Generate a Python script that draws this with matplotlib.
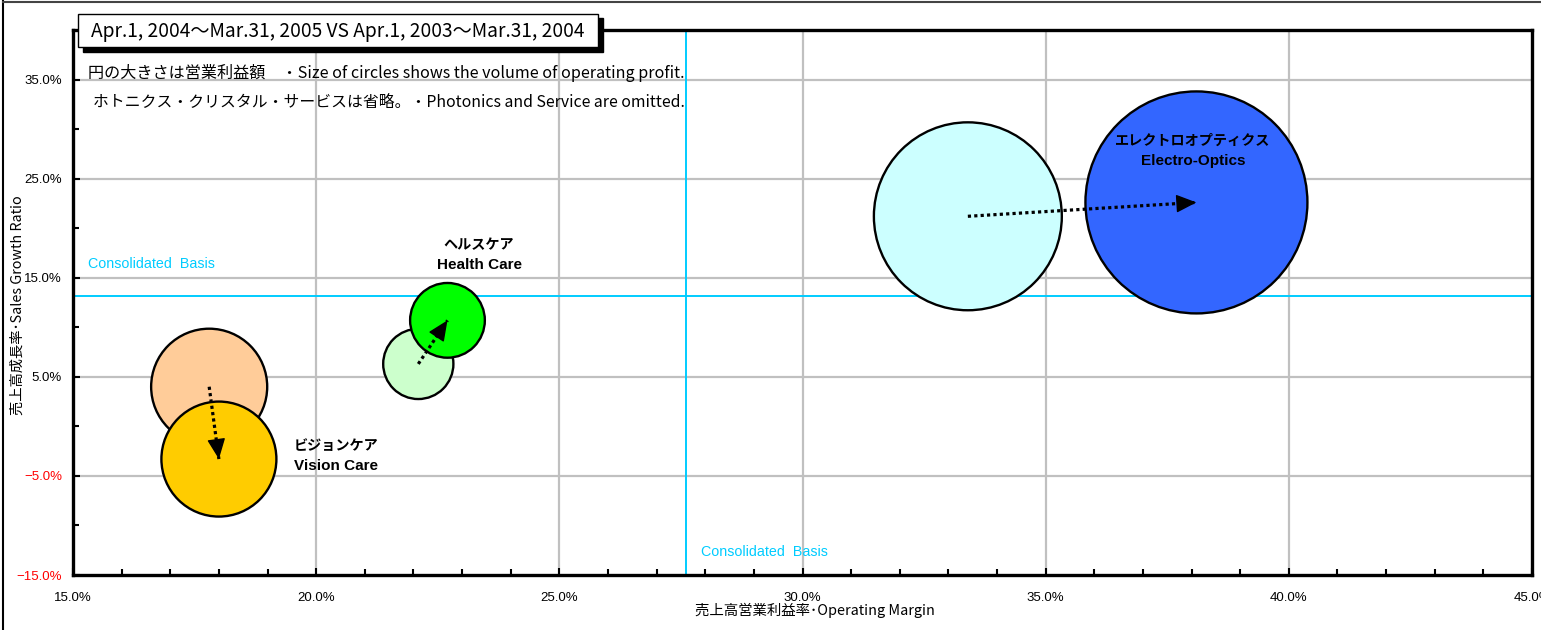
import matplotlib
matplotlib.use("Agg")
import matplotlib.pyplot as plt
import numpy as np
from matplotlib.patches import Rectangle
from matplotlib.lines import Line2D
from matplotlib.ticker import MultipleLocator, FixedLocator

plt.rcParams['font.family'] = ['Noto Sans CJK JP', 'DejaVu Sans']

# ---------------- data ----------------
segments_jp = ['ビジョンケア', 'ヘルスケア', 'エレクトロオプティクス']
segments_en = ['Vision Care', 'Health Care', 'Electro-Optics']
# previous period (Apr.1, 2003 - Mar.31, 2004)
margin_prev = [17.8, 22.1, 33.4]
growth_prev = [4.0, 6.3, 21.2]
profit_prev = [164, 60, 430]
# current period (Apr.1, 2004 - Mar.31, 2005)
margin_cur = [18.0, 22.7, 38.1]
growth_cur = [-3.3, 10.7, 22.6]
profit_cur = [161, 68, 600]
# consolidated basis
consol_margin = 27.6
consol_growth = 13.2

colors_prev = ['#FFCC99', '#CCFFCC', '#CCFFFF']
colors_cur = ['#FFCC00', '#00FF00', '#3366FF']
label_pos = [(20.41, -2.0), (23.35, 18.34), (38.03, 28.82)]

x_ticks = [15, 20, 25, 30, 35, 40, 45]
y_ticks = [-15, -5, 5, 15, 25, 35]

LAT = ['Liberation Sans', 'DejaVu Sans']

# ---------------- figure ----------------
W, H = 1541, 630
fig = plt.figure(figsize=(W / 100, H / 100), dpi=100)
ax = fig.add_axes([73 / W, 1 - 575 / H, (1532 - 73) / W, (575 - 30) / H])
ax.set_xlim(15, 45)
ax.set_ylim(-15, 40)

# grid
for xv in x_ticks[1:-1]:
    ax.axvline(xv, color='#C0C0C0', lw=1.6, zorder=0)
for yv in y_ticks[1:]:
    ax.axhline(yv, color='#C0C0C0', lw=1.6, zorder=0)

# consolidated lines
ax.axvline(consol_margin, color='#00CCFF', lw=1.4, zorder=1)
ax.axhline(consol_growth, color='#00CCFF', lw=1.4, zorder=1)
ax.text(15.31, 16.43, 'Consolidated  Basis', color='#00CCFF', fontsize=10.3,
        ha='left', va='center', family=LAT)
ax.text(27.91, -12.68, 'Consolidated  Basis', color='#00CCFF', fontsize=10.3,
        ha='left', va='center', family=LAT)

# bubbles
k = 42.58
ax.scatter(margin_prev, growth_prev, s=[p * k for p in profit_prev], c=colors_prev,
           edgecolors='black', linewidths=1.7, zorder=3)
ax.scatter(margin_cur, growth_cur, s=[p * k for p in profit_cur], c=colors_cur,
           edgecolors='black', linewidths=1.7, zorder=4)

# arrows: dotted shaft + solid head
for i in range(3):
    x0, y0 = margin_prev[i], growth_prev[i]
    x1, y1 = margin_cur[i], growth_cur[i]
    p0 = ax.transData.transform((x0, y0))
    p1 = ax.transData.transform((x1, y1))
    L = np.hypot(*(p1 - p0))
    ax.plot([x0, x1], [y0, y1], color='black', lw=2.3, linestyle=(0, (1, 1)),
            dash_capstyle='butt', zorder=6)
    ax.annotate('', xy=(x1, y1), xytext=(x0, y0),
                arrowprops=dict(arrowstyle='-|>,head_length=0.85,head_width=0.38',
                                color='black', lw=1.0, mutation_scale=15,
                                shrinkA=(L - 4) * 0.72, shrinkB=0), zorder=7)

# segment labels
for i in range(3):
    lx, ly = label_pos[i]
    ax.text(lx, ly, segments_jp[i], fontsize=10.2, fontweight='bold', ha='center', va='center', zorder=8)
    ax.text(lx, ly - 2.02, segments_en[i], fontsize=11, fontweight='bold', ha='center', va='center',
            family=LAT, zorder=8)

# ticks
ax.xaxis.set_major_locator(FixedLocator(x_ticks))
ax.xaxis.set_minor_locator(MultipleLocator(1))
ax.yaxis.set_major_locator(FixedLocator(y_ticks))
ax.yaxis.set_minor_locator(FixedLocator([-10, 0, 10, 20, 30]))
ax.set_xticklabels([f'{v:.1f}%' for v in x_ticks])
ax.set_yticklabels([(f'{v:.1f}%' if v >= 0 else f'\u2212{abs(v):.1f}%') for v in y_ticks])
for lbl, v in zip(ax.get_yticklabels(), y_ticks):
    if v < 0:
        lbl.set_color('red')
ax.tick_params(which='both', direction='in', width=1.5, labelsize=9.5)
ax.tick_params(which='major', length=5)
ax.tick_params(which='minor', length=4)
ax.tick_params(axis='x', pad=12)
ax.tick_params(axis='y', pad=8)
for lbl in ax.get_xticklabels() + ax.get_yticklabels():
    lbl.set_family(LAT)

for sp in ax.spines.values():
    sp.set_linewidth(2.4)
    sp.set_color('black')

# axis labels
fig.text(815 / W, 1 - 610 / H, '売上高営業利益率･Operating Margin', fontsize=10.4, ha='center', va='center')
fig.text(18 / W, 1 - 305 / H, '売上高成長率･Sales Growth Ratio', fontsize=10.3, ha='center', va='center',
         rotation=90)

# title box with shadow
fig.patches.append(Rectangle((83 / W, 1 - 52 / H), (603 - 83) / W, (52 - 18) / H,
                             transform=fig.transFigure, facecolor='black', edgecolor='black', zorder=8))
fig.patches.append(Rectangle((78 / W, 1 - 47 / H), (598 - 78) / W, (47 - 14) / H,
                             transform=fig.transFigure, facecolor='white', edgecolor='black',
                             lw=1.0, zorder=9))
fig.text(338 / W, 1 - 32 / H, 'Apr.1, 2004～Mar.31, 2005 VS Apr.1, 2003～Mar.31, 2004',
         fontsize=13.8, ha='center', va='center', zorder=10)

# notes
fig.text(88 / W, 1 - 73 / H, '円の大きさは営業利益額　・Size of circles shows the volume of operating profit.',
         fontsize=11.6, ha='left', va='center')
fig.text(93 / W, 1 - 102 / H, 'ホトニクス・クリスタル・サービスは省略。・Photonics and Service are omitted.',
         fontsize=11.4, ha='left', va='center')

# figure border (left & top)
fig.add_artist(Line2D([3 / W, 3 / W], [0, 1 - 1 / H], transform=fig.transFigure, color='black', lw=1.5))
fig.add_artist(Line2D([3 / W, 1], [1 - 1.5 / H, 1 - 1.5 / H], transform=fig.transFigure, color='#444444', lw=1.5))

fig.savefig('out.png', dpi=100)
